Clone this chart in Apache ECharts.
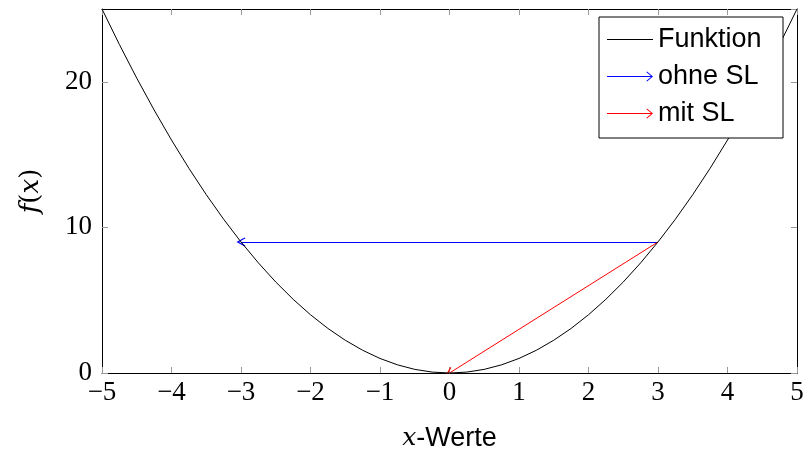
<!DOCTYPE html>
<html>
<head>
<meta charset="utf-8">
<script src="https://cdn.jsdelivr.net/npm/echarts@6/dist/echarts.min.js"></script>
<style>html,body{margin:0;padding:0;background:#fff}#c{width:806px;height:450px}</style>
</head>
<body>
<div id="c"></div>
<script>
const xValues = [-5,-4.75,-4.5,-4.25,-4,-3.75,-3.5,-3.25,-3,-2.75,-2.5,-2.25,-2,-1.75,-1.5,-1.25,-1,-0.75,-0.5,-0.25,0,
                 0.25,0.5,0.75,1,1.25,1.5,1.75,2,2.25,2.5,2.75,3,3.25,3.5,3.75,4,4.25,4.5,4.75,5];
const yValues = [25,22.5625,20.25,18.0625,16,14.0625,12.25,10.5625,9,7.5625,6.25,5.0625,4,3.0625,2.25,1.5625,1,0.5625,0.25,0.0625,0,
                 0.0625,0.25,0.5625,1,1.5625,2.25,3.0625,4,5.0625,6.25,7.5625,9,10.5625,12.25,14.0625,16,18.0625,20.25,22.5625,25];
const arrowOhne = [[3,9],[-3,9]];
const arrowMit = [[3,9],[0,0]];
const seriesNames = ['Funktion','ohne SL','mit SL'];

const lineData = xValues.map((x,i)=>[x,yValues[i]]);
const serif = 'Liberation Serif';
const mathFont = 'DejaVu Serif';
const sans = 'Liberation Sans';
const tickColor = '#999';
const arrowPath = 'path://M5,0 L10,9 L9,10 L5,2.8 L1,10 L0,9 Z';
const lineIcon = 'path://M0,6 L46,6 L46,7 L0,7 Z';
const arrowIcon = 'path://M0,6 L45,6 L45,7 L0,7 Z M40,1.5 L46,6.5 L40,11.5 L39.4,10.8 L44.6,6.5 L39.4,2.2 Z';

const chart = echarts.init(document.getElementById('c'));
chart.setOption({
  animation: false,
  grid: {left: 102, right: 9, top: 9, bottom: 77, outerBoundsMode: 'none', containLabel: false},
  xAxis: [{
    type: 'value', min: -5, max: 5, interval: 1, position: 'bottom',
    axisLine: {show: true, onZero: false, lineStyle: {color: '#000', width: 1}},
    axisTick: {show: true, inside: true, length: 6, lineStyle: {color: tickColor}},
    axisLabel: {fontFamily: serif, fontSize: 27, color: '#000', margin: 6,
      formatter: v => String(v).replace('-', '\u2212')},
    splitLine: {show: false},
    name: '{i|x}{s|-Werte}', nameLocation: 'middle', nameGap: 52,
    nameTextStyle: {rich: {
      i: {fontFamily: mathFont, fontStyle: 'italic', fontSize: 25, color: '#000'},
      s: {fontFamily: sans, fontSize: 27, color: '#000'}
    }}
  }, {
    type: 'value', min: -5, max: 5, interval: 1, position: 'top',
    axisLine: {show: true, onZero: false, lineStyle: {color: '#000', width: 1}},
    axisTick: {show: true, inside: true, length: 6, lineStyle: {color: tickColor}},
    axisLabel: {show: false}, splitLine: {show: false}
  }],
  yAxis: [{
    type: 'value', min: 0, max: 25, interval: 10, position: 'left',
    axisLine: {show: true, onZero: false, lineStyle: {color: '#000', width: 1}},
    axisTick: {show: true, inside: true, length: 6, lineStyle: {color: tickColor}},
    axisLabel: {fontFamily: serif, fontSize: 27, color: '#000', margin: 10, showMaxLabel: false},
    splitLine: {show: false},
    name: '{i|f}{n|(}{i|x}{n|)}', nameLocation: 'middle', nameGap: 58, nameRotate: 90,
    nameTextStyle: {rich: {
      i: {fontFamily: mathFont, fontStyle: 'italic', fontSize: 26, color: '#000'},
      n: {fontFamily: mathFont, fontSize: 26, color: '#000'}
    }}
  }, {
    type: 'value', min: 0, max: 25, interval: 10, position: 'right',
    axisLine: {show: true, onZero: false, lineStyle: {color: '#000', width: 1}},
    axisTick: {show: true, inside: true, length: 6, lineStyle: {color: tickColor}},
    axisLabel: {show: false}, splitLine: {show: false}
  }],
  legend: {
    orient: 'vertical', right: 23, top: 17,
    padding: [9, 10, 11, 8], itemGap: 10,
    itemWidth: 46, itemHeight: 13,
    backgroundColor: '#fff', borderColor: '#000', borderWidth: 1, borderRadius: 0,
    textStyle: {fontFamily: sans, fontSize: 27, color: '#000', lineHeight: 26, width: 115, padding: [0,0,0,0]},
    data: [
      {name: seriesNames[0], icon: lineIcon, itemStyle: {color: '#000', borderWidth: 0}, lineStyle: {width: 0}},
      {name: seriesNames[1], icon: arrowIcon, itemStyle: {color: '#00f', borderWidth: 0}, lineStyle: {width: 0}},
      {name: seriesNames[2], icon: arrowIcon, itemStyle: {color: '#f00', borderWidth: 0}, lineStyle: {width: 0}}
    ]
  },
  series: [{
    name: seriesNames[0], type: 'line', data: lineData, smooth: false,
    showSymbol: false, symbol: 'none', lineStyle: {color: '#000', width: 1}, itemStyle: {color: '#000'}
  }, {
    name: seriesNames[1], type: 'lines', coordinateSystem: 'cartesian2d',
    symbol: ['none', arrowPath], symbolSize: 9,
    lineStyle: {color: '#00f', width: 1, opacity: 1}, itemStyle: {color: '#00f'},
    data: [{coords: arrowOhne}]
  }, {
    name: seriesNames[2], type: 'lines', coordinateSystem: 'cartesian2d',
    symbol: ['none', arrowPath], symbolSize: 9,
    lineStyle: {color: '#f00', width: 1, opacity: 1}, itemStyle: {color: '#f00'},
    data: [{coords: arrowMit}]
  }]
});
</script>
</body>
</html>
